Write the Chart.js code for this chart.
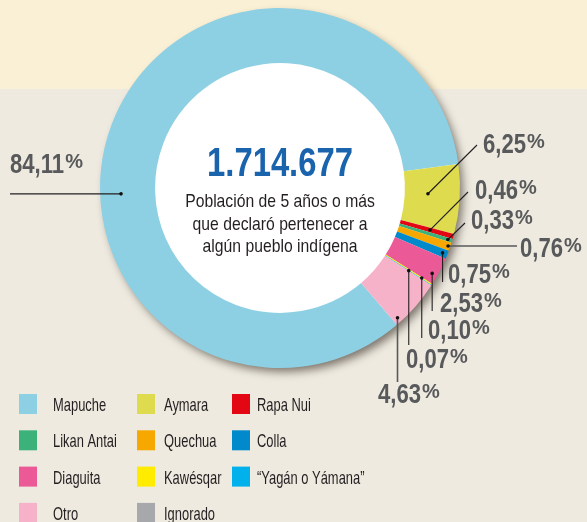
<!DOCTYPE html>
<html><head><meta charset="utf-8">
<script src="https://cdn.jsdelivr.net/npm/chart.js@4/dist/chart.umd.min.js"></script>
<style>
html,body{margin:0;padding:0;}
body{width:587px;height:522px;overflow:hidden;background:linear-gradient(#faf0d6 0,#faf0d6 89px,#eeeae0 89px,#eeeae0 100%);}
#wrap{position:absolute;left:0;top:0;width:587px;height:522px;}
</style></head><body>
<div id="wrap"><canvas id="c" width="587" height="522"></canvas></div>
<script>
// ---- data ----
const categories = ['Mapuche','Aymara','Rapa Nui','Likan Antai','Quechua','Colla','Diaguita','Kawésqar','\u201CYagán o Yámana\u201D','Otro','Ignorado'];
const shares = [84.11, 6.25, 0.46, 0.33, 0.76, 0.75, 2.53, 0.10, 0.07, 4.63, 0];
const shareLabels = ['84,11','6,25','0,46','0,33','0,76','0,75','2,53','0,10','0,07','4,63',null];
const totalLabel = '1.714.677';
const centerLines = ['Población de 5 años o más','que declaró pertenecer a','algún pueblo indígena'];

// ---- styles / layout ----
const colors = ['#8ed0e3','#dedc4e','#e30613','#3cb27a','#f6a800','#0089cb','#eb5a96','#ffec00','#00b1eb','#f5b2c9','#a7a8ab'];
const FONT = '"Liberation Sans",Arimo,Arial,sans-serif';
const labelLayout = [
  {t:0.424, rf:0.62, tx:10,  ty:173, mode:'h', ex:10},
  {t:0.44,  rf:0.42, tx:483, ty:153, mode:'p', ex:477, ey:145},
  {t:0.5,   rf:0.56, tx:475, ty:199, mode:'p', ex:468, ey:192},
  {t:0.5,   rf:0.92, tx:471, ty:229, mode:'p', ex:465, ey:223},
  {t:0.5,   rf:0.96, tx:520, ty:257, mode:'h', ex:517},
  {t:0.5,   rf:0.91, tx:448, ty:283, mode:'v', ey:282},
  {t:0.68,  rf:0.90, tx:440, ty:312, mode:'v', ey:311},
  {t:0.5,   rf:0.78, tx:428, ty:339, mode:'v', ey:338},
  {t:0.5,   rf:0.51, tx:406, ty:368, mode:'v', ey:345},
  {t:0.9,   rf:0.91, tx:378, ty:403, mode:'v', ey:382},
  null
];
const legendCols = [{sx:19, tx:53},{sx:137, tx:164},{sx:232, tx:257}];
const legendRowTop = 394, legendRowStep = 36.3;

// draw horizontally condensed text; returns drawn width
function ctext(ctx, txt, x, y, font, sx, align){
  ctx.save();
  ctx.font = font;
  ctx.textAlign = align || 'left';
  ctx.translate(x, y);
  ctx.scale(sx, 1);
  ctx.fillText(txt, 0, 0);
  const w = ctx.measureText(txt).width * sx;
  ctx.restore();
  return w;
}

const shadowPlugin = {
  id:'ringShadow',
  beforeDatasetsDraw(chart){
    const el = chart.getDatasetMeta(0).data[0];
    if(!el) return;
    const ctx = chart.ctx;
    ctx.save();
    ctx.shadowColor = 'rgba(50,40,30,0.6)';
    ctx.shadowBlur = 9;
    ctx.shadowOffsetX = 4;
    ctx.shadowOffsetY = 5;
    ctx.fillStyle = '#ffffff';
    ctx.beginPath();
    ctx.arc(el.x, el.y, el.outerRadius - 1, 0, Math.PI*2);
    ctx.fill();
    ctx.restore();
  }
};

function drawPct(ctx, txt, x, y, color){
  ctx.fillStyle = color;
  ctx.textBaseline = 'alphabetic';
  const w = ctext(ctx, txt, x, y, 'bold 28px ' + FONT, 0.79, 'left');
  ctext(ctx, '%', x + w + 1, y - 5, 'bold 20px ' + FONT, 1.0, 'left');
}

const labelPlugin = {
  id:'labels',
  afterDatasetsDraw(chart){
    const ctx = chart.ctx;
    const meta = chart.getDatasetMeta(0);
    const first = meta.data[0];
    // center text
    ctx.save();
    ctx.textBaseline = 'alphabetic';
    ctx.fillStyle = '#1a64ae';
    ctext(ctx, totalLabel, first.x, first.y - 12, 'bold 40px ' + FONT, 0.82, 'center');
    ctx.fillStyle = '#231f20';
    centerLines.forEach((ln,i)=> ctext(ctx, ln, first.x, first.y + 19 + i*22.5, '18.5px ' + FONT, 0.85, 'center'));
    ctx.restore();

    // leaders + labels
    ctx.save();
    meta.data.forEach((el,i)=>{
      const L = labelLayout[i];
      if(!L || shareLabels[i] === null) return;
      const a = el.startAngle + L.t*(el.endAngle - el.startAngle);
      const r = el.innerRadius + L.rf*(el.outerRadius - el.innerRadius);
      const dx = el.x + Math.cos(a)*r, dy = el.y + Math.sin(a)*r;
      let ex, ey;
      if(L.mode==='h'){ ex = L.ex; ey = dy; }
      else if(L.mode==='v'){ ex = dx; ey = L.ey; }
      else { ex = L.ex; ey = L.ey; }
      const grey = (L.mode==='h' && i!==0) || i===9;
      ctx.strokeStyle = grey ? '#58595b' : '#231f20';
      ctx.lineWidth = grey ? 1.6 : 1.1;
      ctx.beginPath();
      ctx.moveTo(dx, dy);
      ctx.lineTo(ex, ey);
      ctx.stroke();
      ctx.fillStyle = '#111';
      ctx.beginPath();
      ctx.arc(dx, dy, 1.8, 0, Math.PI*2);
      ctx.fill();
      drawPct(ctx, shareLabels[i], L.tx, L.ty, '#58595b');
    });
    ctx.restore();

    // legend
    ctx.save();
    const ds = chart.data.datasets[0];
    chart.data.labels.forEach((lab,i)=>{
      const col = legendCols[i % 3];
      const row = Math.floor(i / 3);
      const top = legendRowTop + row*legendRowStep;
      ctx.fillStyle = ds.backgroundColor[i];
      ctx.fillRect(col.sx, top, 18, 20);
      ctx.fillStyle = '#231f20';
      ctx.textBaseline = 'alphabetic';
      ctext(ctx, lab, col.tx, top + 17, '19px ' + FONT, 0.68, 'left');
    });
    ctx.restore();
  }
};

new Chart(document.getElementById('c'), {
  type:'doughnut',
  data:{
    labels: categories,
    datasets:[{ data: shares, backgroundColor: colors, borderWidth: 0, hoverOffset: 0 }]
  },
  options:{
    responsive:false,
    animation:false,
    rotation:139.5,
    cutout:'69.4%',
    layout:{ padding:{ left:100, top:8, right:127, bottom:154 } },
    plugins:{ legend:{display:false}, tooltip:{enabled:false} }
  },
  plugins:[shadowPlugin, labelPlugin]
});
</script>
</body></html>
